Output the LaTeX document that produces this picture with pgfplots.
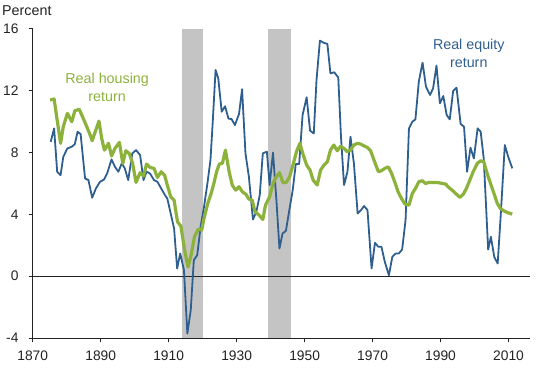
\documentclass[border=0pt]{standalone}
\usepackage{fontspec}
\setmainfont{Liberation Sans}
\usepackage{pgfplots}
\usepackage{pgfplotstable}
\pgfplotsset{compat=1.18}
\definecolor{eqblue}{HTML}{2F5F8F}
\definecolor{hsgreen}{HTML}{8CB23C}
\definecolor{band}{HTML}{C4C4C4}
\definecolor{txt}{HTML}{222222}
\pgfplotstableread{
year val
1875.3 8.70
1876.3 9.57
1877.2 6.76
1878.2 6.54
1879.0 7.73
1880.2 8.27
1881.5 8.38
1882.4 8.55
1883.2 9.35
1884.1 9.20
1885.4 6.33
1886.4 6.22
1887.5 5.08
1888.6 5.68
1889.8 6.11
1891.0 6.26
1891.9 6.65
1893.2 7.56
1894.2 7.08
1895.2 6.76
1896.2 7.30
1897.1 6.98
1898.1 6.22
1899.3 7.95
1900.4 8.16
1901.6 7.84
1902.6 6.22
1903.5 6.76
1904.5 6.65
1905.7 6.22
1906.7 6.11
1907.8 5.68
1908.9 5.25
1909.6 5.03
1910.6 4.06
1911.6 3.09
1912.5 0.50
1913.4 1.47
1914.5 0.39
1915.5 -3.71
1916.5 -2.20
1917.4 1.04
1918.4 1.36
1919.4 3.20
1920.4 4.49
1921.4 6.00
1922.3 7.52
1923.0 10.10
1923.8 13.35
1924.6 12.80
1925.6 10.65
1926.6 11.00
1927.6 10.20
1928.5 10.17
1929.5 9.78
1930.7 10.50
1931.6 12.10
1932.6 7.95
1933.6 6.44
1934.8 3.67
1935.8 4.17
1936.8 5.25
1937.7 7.95
1938.9 8.06
1939.7 5.90
1940.7 8.00
1941.7 4.92
1942.6 1.79
1943.5 2.76
1944.5 2.94
1945.5 4.28
1946.5 5.57
1947.4 7.26
1948.4 7.26
1949.4 10.43
1950.6 11.58
1951.6 9.42
1952.7 9.24
1953.5 12.70
1954.5 15.25
1955.5 15.12
1956.7 15.03
1957.6 13.13
1958.7 13.20
1959.9 12.87
1960.7 9.03
1961.6 5.90
1962.6 6.76
1963.5 9.03
1964.5 7.30
1965.6 4.06
1966.6 4.28
1967.5 4.54
1968.5 4.28
1969.7 0.50
1970.7 2.16
1971.7 1.90
1972.6 1.90
1973.6 0.93
1974.8 0.06
1975.8 1.25
1976.8 1.47
1977.7 1.47
1978.7 1.73
1979.7 3.63
1980.7 9.57
1981.7 10.00
1982.6 10.15
1983.6 12.60
1984.7 13.82
1985.7 12.27
1986.9 11.73
1987.8 12.16
1988.8 13.63
1989.8 11.19
1990.8 11.66
1991.8 10.43
1992.7 10.15
1993.7 11.99
1994.7 12.20
1995.9 9.85
1996.9 9.68
1997.8 6.76
1998.8 8.32
1999.8 7.62
2000.9 9.57
2001.8 9.35
2002.7 7.62
2004.0 1.73
2004.8 2.55
2005.8 1.25
2006.8 0.82
2007.7 3.95
2008.9 8.49
2009.9 7.73
2011.1 6.98
}\equity
\pgfplotstableread{
year val
1875.1 11.40
1876.3 11.47
1877.2 10.10
1878.2 8.60
1879.0 9.68
1880.2 10.54
1881.5 10.00
1882.4 10.71
1883.7 10.80
1884.9 10.20
1885.9 9.68
1886.9 9.14
1887.5 8.77
1888.4 9.35
1889.5 10.04
1890.3 8.92
1891.1 8.16
1892.3 8.60
1893.2 7.78
1894.2 8.27
1895.5 8.66
1896.5 7.30
1897.4 8.12
1898.4 7.95
1899.4 7.30
1900.4 6.07
1901.6 6.70
1902.6 6.48
1903.5 7.26
1904.5 7.04
1905.7 6.98
1906.7 6.39
1907.8 6.76
1908.8 6.54
1909.6 5.90
1910.6 5.14
1911.6 4.92
1912.6 3.52
1913.6 3.24
1914.7 1.68
1915.7 0.60
1916.6 1.36
1917.6 2.55
1918.7 3.05
1919.7 2.98
1920.5 3.84
1921.5 4.71
1922.5 5.36
1923.3 6.00
1924.1 6.76
1924.9 7.26
1925.8 7.30
1926.7 8.16
1927.8 6.76
1928.7 5.90
1929.7 5.57
1930.7 5.79
1931.7 5.46
1932.7 5.31
1933.6 4.99
1934.6 4.92
1935.4 4.17
1936.6 3.95
1937.7 3.67
1938.5 4.60
1939.7 5.14
1940.7 6.00
1941.7 6.44
1942.6 6.70
1943.6 6.07
1944.6 6.07
1945.6 6.44
1946.7 7.30
1947.6 8.06
1948.6 8.60
1949.6 7.84
1950.6 7.19
1951.6 6.87
1952.5 6.22
1953.7 5.90
1954.7 6.87
1955.7 7.19
1956.7 7.41
1957.6 8.16
1958.6 8.49
1959.6 8.12
1960.6 8.42
1961.6 8.27
1962.5 8.06
1963.5 8.16
1964.5 8.49
1965.5 8.60
1966.5 8.55
1967.4 8.44
1968.4 8.34
1969.4 8.12
1970.4 7.52
1971.7 6.76
1972.6 6.83
1973.6 6.98
1974.6 7.08
1975.6 6.65
1976.6 6.05
1977.5 5.46
1978.5 5.03
1979.5 4.67
1980.7 4.60
1981.7 5.36
1982.6 5.68
1983.6 6.11
1984.6 6.18
1985.6 6.00
1986.6 6.07
1987.5 6.07
1988.5 6.07
1989.5 6.05
1990.5 6.00
1991.5 5.96
1992.4 5.75
1993.4 5.57
1994.4 5.36
1995.7 5.10
1996.7 5.31
1997.6 5.68
1998.6 6.22
1999.6 6.76
2000.8 7.30
2001.8 7.47
2002.7 7.41
2003.7 6.65
2004.7 6.00
2005.7 5.36
2006.7 4.71
2007.6 4.38
2008.6 4.23
2009.9 4.10
2011.1 4.02
}\housing
\begin{document}
\fontsize{13bp}{15bp}\selectfont
\begin{tikzpicture}
\useasboundingbox (-32.7bp,-32bp) rectangle (517.3bp,338bp);
\begin{axis}[
  scale only axis, width=497.6bp, height=309bp,
  at={(0,0)}, anchor=south west,
  xmin=1870, xmax=2016.4, ymin=-4, ymax=16,
  axis x line*=bottom, axis y line*=left,
  axis line style={txt, line width=1bp},
  xtick={1870,1890,1910,1930,1950,1970,1990,2010},
  xticklabels={1870,1890,1910,1930,1950,1970,1990,2010},
  ytick={-4,0,4,8,12,16},
  yticklabels={-4,0,4,8,12,16},
  tick align=outside, major tick length=4bp,
  tick style={txt, line width=1bp},
  tick label style={font=\fontsize{13.8bp}{15bp}\selectfont, text=txt},
  yticklabel style={inner sep=0pt, xshift=-10bp},
  xticklabel style={inner sep=0pt, yshift=-9bp},
]
\addplot[fill=band, draw=none] coordinates {(1914,-4) (1920,-4) (1920,16) (1914,16)} -- cycle;
\addplot[fill=band, draw=none] coordinates {(1939.2,-4) (1946,-4) (1946,16) (1939.2,16)} -- cycle;
\addplot[txt, line width=1.1bp] coordinates {(1870,0) (2016.4,0)};
\addplot[eqblue, line width=1.8bp, line join=round] table[x=year, y=val] {\equity};
\addplot[hsgreen, line width=3.2bp, line join=round] table[x=year, y=val] {\housing};
\node[hsgreen, align=center, font=\fontsize{14.3bp}{18bp}\selectfont] at (axis cs:1891.9,12.2) {Real housing\\return};
\node[eqblue, align=center, font=\fontsize{14.3bp}{18bp}\selectfont] at (axis cs:1998.3,14.45) {Real equity\\return};
\end{axis}
\node[anchor=base west, text=txt, inner sep=0pt, font=\fontsize{14.3bp}{16bp}\selectfont] at (-30.7bp,322bp) {Percent};
\end{tikzpicture}
\end{document}
